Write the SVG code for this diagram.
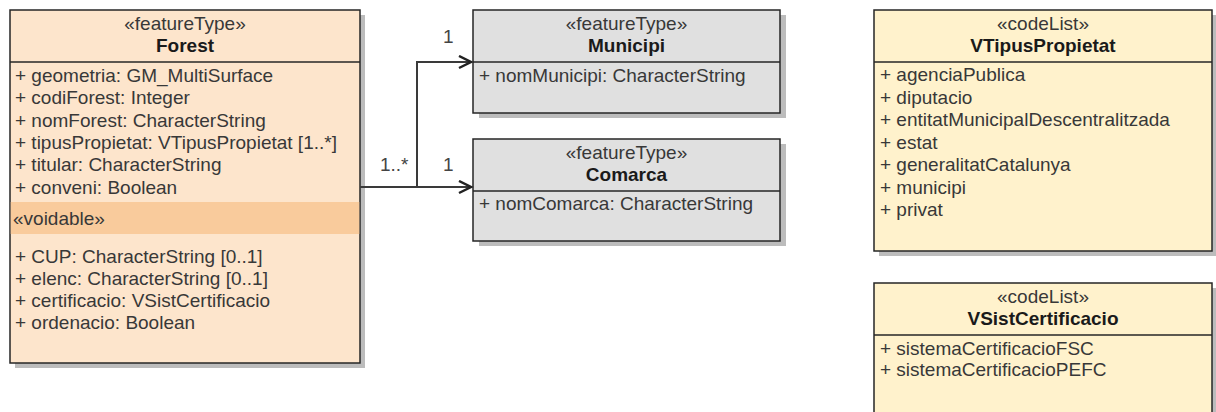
<svg xmlns="http://www.w3.org/2000/svg" width="1216" height="412" viewBox="0 0 1216 412">
<defs>
<style>
.shadow{fill:#bcbcbc;stroke:none}
.box{stroke:#262626;stroke-width:1.5}
.ft{fill:#fde5cc}
.gr{fill:#e0e0e0}
.cl{fill:#fff2cc}
.div{stroke:#262626;stroke-width:1.5;fill:none}
text{font-family:"Liberation Sans",Arial,sans-serif;font-size:19px;fill:#383838}
.st{text-anchor:middle}
.nm{text-anchor:middle;font-weight:bold;fill:#1a1a1a}
.edge{stroke:#3a3a3a;stroke-width:2;fill:none}
.lbl{fill:#444}
</style>
<marker id="open" markerWidth="16" markerHeight="16" refX="13" refY="7" orient="auto" markerUnits="userSpaceOnUse">
<path d="M1,1 L13,7 L1,13" fill="none" stroke="#222" stroke-width="2.5"/>
</marker>
</defs>

<g id="Forest">
<rect class="shadow" x="15" y="15" width="350" height="353"/>
<rect class="box ft" x="10" y="10" width="350" height="353"/>
<rect x="10.75" y="202" width="348.5" height="32" fill="#f9cb9c"/>
<line class="div" x1="10" y1="62" x2="360" y2="62"/>
<text class="st" x="185" y="30">«featureType»</text>
<text class="nm" x="185" y="52">Forest</text>
<text x="15" y="82">+ geometria: GM_MultiSurface</text>
<text x="15" y="104">+ codiForest: Integer</text>
<text x="15" y="126.5">+ nomForest: CharacterString</text>
<text x="15" y="149">+ tipusPropietat: VTipusPropietat [1..*]</text>
<text x="15" y="171">+ titular: CharacterString</text>
<text x="15" y="193.5">+ conveni: Boolean</text>
<text x="13" y="224.5">«voidable»</text>
<text x="15" y="262.5">+ CUP: CharacterString [0..1]</text>
<text x="15" y="284.5">+ elenc: CharacterString [0..1]</text>
<text x="15" y="306.5">+ certificacio: VSistCertificacio</text>
<text x="15" y="328.5">+ ordenacio: Boolean</text>
</g>

<g id="Municipi">
<rect class="shadow" x="479" y="15" width="307" height="103"/>
<rect class="box gr" x="473" y="10" width="307" height="103"/>
<line class="div" x1="473" y1="62" x2="780" y2="62"/>
<text class="st" x="626.5" y="30">«featureType»</text>
<text class="nm" x="626.5" y="52">Municipi</text>
<text x="479" y="82">+ nomMunicipi: CharacterString</text>
</g>

<g id="Comarca">
<rect class="shadow" x="479" y="144" width="307" height="102"/>
<rect class="box gr" x="473" y="139" width="307" height="102"/>
<line class="div" x1="473" y1="191" x2="780" y2="191"/>
<text class="st" x="626.5" y="159">«featureType»</text>
<text class="nm" x="626.5" y="181">Comarca</text>
<text x="479" y="210">+ nomComarca: CharacterString</text>
</g>

<g id="VTipusPropietat">
<rect class="shadow" x="879" y="15" width="338" height="241"/>
<rect class="box cl" x="874" y="10" width="338" height="241"/>
<line class="div" x1="874" y1="62" x2="1212" y2="62"/>
<text class="st" x="1043" y="30">«codeList»</text>
<text class="nm" x="1043" y="52">VTipusPropietat</text>
<text x="880" y="81">+ agenciaPublica</text>
<text x="880" y="103.5">+ diputacio</text>
<text x="880" y="126">+ entitatMunicipalDescentralitzada</text>
<text x="880" y="148.5">+ estat</text>
<text x="880" y="171">+ generalitatCatalunya</text>
<text x="880" y="193.5">+ municipi</text>
<text x="880" y="216">+ privat</text>
</g>

<g id="VSistCertificacio">
<rect class="shadow" x="879" y="288" width="338" height="130"/>
<rect class="box cl" x="874" y="283" width="338" height="130"/>
<line class="div" x1="874" y1="335" x2="1212" y2="335"/>
<text class="st" x="1043" y="303">«codeList»</text>
<text class="nm" x="1043" y="325">VSistCertificacio</text>
<text x="880" y="355">+ sistemaCertificacioFSC</text>
<text x="880" y="376">+ sistemaCertificacioPEFC</text>
</g>

<g id="connectors">
<path class="edge" d="M360,187 L417,187 L417,62 L471,62" marker-end="url(#open)"/>
<path class="edge" d="M360,187 L471,187" marker-end="url(#open)"/>
<text class="lbl" x="443" y="43">1</text>
<text class="lbl" x="380" y="171">1..*</text>
<text class="lbl" x="443" y="171">1</text>
</g>
</svg>
